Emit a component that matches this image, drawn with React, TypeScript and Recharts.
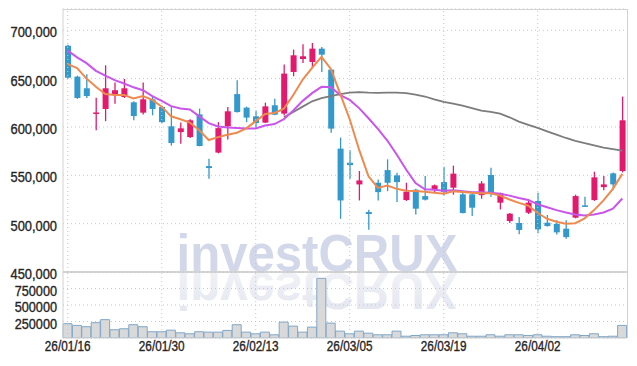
import React from 'react'
import {
  ComposedChart, BarChart, Bar, Line, XAxis, YAxis,
  CartesianGrid, ReferenceLine
} from 'recharts'

const dates = [
  '26/01/16', '26/01/19', '26/01/20', '26/01/21', '26/01/22', '26/01/23', '26/01/26', '26/01/27', '26/01/28', '26/01/29',
  '26/01/30', '26/02/02', '26/02/03', '26/02/04', '26/02/05', '26/02/06', '26/02/09', '26/02/10', '26/02/11', '26/02/12',
  '26/02/13', '26/02/19', '26/02/20', '26/02/23', '26/02/24', '26/02/25', '26/02/26', '26/02/27', '26/03/03', '26/03/04',
  '26/03/05', '26/03/06', '26/03/09', '26/03/10', '26/03/11', '26/03/12', '26/03/13', '26/03/16', '26/03/17', '26/03/18',
  '26/03/19', '26/03/20', '26/03/23', '26/03/24', '26/03/25', '26/03/26', '26/03/27', '26/03/30', '26/03/31', '26/04/01',
  '26/04/02', '26/04/03', '26/04/06', '26/04/07', '26/04/08', '26/04/09', '26/04/10', '26/04/13', '26/04/14', '26/04/15',
]

const opens = [
  684000, 652000, 640000, 613500, 618600, 634000, 631000, 625500, 614800, 628600,
  620600, 600700, 594700, 589600, 613000, 559500, 573500, 600600, 634000, 620000,
  611000, 604500, 622400, 613800, 656900, 670300, 667200, 681000, 659300, 577600,
  563000, 540600, 512000, 542300, 555400, 549900, 524400, 535100, 528500, 535500,
  543000, 537200, 530300, 530300, 529500, 550300, 521700, 502700, 500700, 511300,
  523400, 501000, 499700, 494800, 506200, 518900, 524400, 537800, 552000, 554400,
]
const highs = [
  685000, 653000, 654500, 630300, 663800, 646000, 649600, 626500, 645900, 631000,
  622000, 620600, 604500, 608000, 619000, 567200, 605000, 620600, 648300, 621000,
  617000, 625200, 629300, 664500, 680000, 685500, 686900, 682800, 660000, 589000,
  575800, 554400, 514400, 545700, 566500, 552700, 542300, 536000, 549200, 540500,
  558900, 560000, 533600, 531500, 544000, 557900, 532000, 511000, 506800, 523500,
  532000, 509000, 503500, 503500, 530000, 527900, 553700, 549200, 553000, 631400,
]
const lows = [
  650000, 629000, 630000, 596500, 606000, 624000, 630000, 607000, 613000, 612000,
  604000, 580700, 582700, 588500, 580000, 546500, 572700, 587000, 615000, 605000,
  598500, 604000, 612000, 611800, 652400, 666200, 662000, 656900, 594000, 505000,
  546500, 524000, 493800, 524000, 533600, 522300, 523500, 509400, 524000, 532600,
  529200, 530000, 510500, 507800, 525800, 527900, 514700, 500700, 489000, 510000,
  490000, 497000, 488900, 484400, 505500, 517500, 523500, 534600, 535400, 553000,
]
const closes = [
  651000, 630000, 632000, 615000, 640000, 638000, 640000, 611300, 628600, 618600,
  605000, 583400, 598600, 606900, 580300, 557500, 598800, 616200, 615400, 609700,
  604000, 621300, 612700, 655200, 674100, 673100, 681000, 674800, 598300, 524000,
  560600, 544700, 510000, 532600, 542300, 543000, 533000, 515500, 524800, 539600,
  532600, 551700, 511000, 516500, 541600, 532600, 531400, 510300, 493500, 521700,
  494100, 497500, 491000, 486100, 528500, 517900, 547900, 540600, 540600, 606900,
]

const ma5 = [
  665000, 661000, 650000, 641500, 634000, 633000, 633000, 629500, 632000, 628000,
  621000, 611000, 608000, 604500, 596500, 586500, 589500, 592000, 594000, 598500,
  606000, 613500, 614500, 619000, 633000, 649000, 661000, 672500, 660000, 634000,
  608000, 576500, 549000, 537000, 539500, 536000, 534000, 533700, 533000, 532000,
  531000, 533500, 532800, 532000, 531500, 531500, 529000, 525000, 521500, 518500,
  511000, 505000, 502000, 500000, 500500, 505500, 514000, 524000, 536000, 551500,
]
const ma10 = [
  679000, 672000, 666000, 658000, 653000, 648500, 645000, 641000, 638000, 632000,
  627000, 621500, 619000, 618000, 611000, 604000, 600500, 599500, 599000, 598500,
  598500, 601500, 603000, 608000, 617000, 627000, 635000, 641500, 641000, 633000,
  628000, 619500, 609000, 598000, 586000, 571500, 556000, 542000, 535500, 535000,
  534000, 534500, 533500, 532500, 532500, 532000, 531000, 529000, 526500, 524500,
  520000, 517000, 514000, 511500, 509500, 508500, 509500, 511500, 515500, 526000,
]
const ma20 = [
  null, null, null, null, null, null, null, null, null, null,
  null, null, null, null, null, null, null, null, null, null,
  null, null, null, 610000, 615500, 621000, 626500, 629800, 632000, 634000,
  635500, 636000, 635500, 635300, 635500, 635500, 635000, 633500, 631500, 628500,
  626000, 624200, 622000, 619500, 617000, 615500, 613800, 610000, 605600, 602200,
  599000, 595400, 592000, 588600, 585700, 583200, 581000, 578600, 577000, 575500,
]

const volumes = [
  217000, 191000, 171000, 232000, 278000, 125000, 140000, 201000, 171000, 95000,
  95000, 119000, 79000, 64000, 95000, 89000, 89000, 115000, 201000, 89000,
  64000, 89000, 49000, 241000, 180000, 89000, 165000, 904000, 226000, 104000,
  64000, 104000, 73000, 49000, 49000, 104000, 27000, 38000, 49000, 49000,
  49000, 79000, 64000, 27000, 27000, 49000, 27000, 49000, 49000, 38000,
  49000, 27000, 20000, 20000, 49000, 38000, 64000, 20000, 27000, 191000,
]

const priceTicks = [450000, 500000, 550000, 600000, 650000, 700000]
const volumeTicks = [250000, 500000, 750000]
const dateTicks = ['26/01/16', '26/01/30', '26/02/13', '26/03/05', '26/03/19', '26/04/02']

const UP = '#e3196d'
const DOWN = '#3398cb'
const GRID = '#c3c6da'
const BORDER = '#d2d2d2'
const INK = '#252525'
const FONT = "'Liberation Sans', Arial, sans-serif"

const rows = dates.map((date, i) => ({
  date,
  open: opens[i],
  high: highs[i],
  low: lows[i],
  close: closes[i],
  range: [lows[i], highs[i]],
  ma5: ma5[i],
  ma10: ma10[i],
  ma20: ma20[i],
  volume: volumes[i],
}))

function Candle(props: any) {
  const { x, y, width, height, payload } = props
  const { open, high, low, close } = payload
  const top = Math.min(y, y + height)
  const h = Math.abs(height)
  const k = high > low ? h / (high - low) : 0
  const color = close >= open ? UP : DOWN
  const bodyTop = top + (high - Math.max(open, close)) * k
  const bodyH = Math.max(Math.abs(open - close) * k, 1.5)
  const cx = x + width / 2
  return (
    <g>
      <line x1={cx} x2={cx} y1={top} y2={top + h} stroke={color} strokeWidth={1.3} />
      <rect x={x} y={bodyTop} width={width} height={bodyH} fill={color} />
    </g>
  )
}

function PriceTick({ x, y, payload }: any) {
  return (
    <text x={x} y={y + 7} textAnchor="end" fontSize={14} fill={INK} stroke={INK} strokeWidth={0.35}
      fontFamily={FONT} textLength={46.5} lengthAdjust="spacingAndGlyphs">
      {payload.value.toLocaleString('en-US')}
    </text>
  )
}

function VolumeTick({ x, y, payload }: any) {
  return (
    <text x={x} y={y + 7} textAnchor="end" fontSize={14} fill={INK} stroke={INK} strokeWidth={0.35}
      fontFamily={FONT} textLength={42.3} lengthAdjust="spacingAndGlyphs">
      {String(payload.value)}
    </text>
  )
}

function DateTick({ x, y, payload }: any) {
  return (
    <text x={x} y={y + 7} textAnchor="middle" fontSize={14} fill={INK} stroke={INK} strokeWidth={0.35}
      fontFamily={FONT} textLength={45.7} lengthAdjust="spacingAndGlyphs">
      {payload.value}
    </text>
  )
}

function Watermark() {
  return (
    <svg width={637} height={366} style={{ position: 'absolute', left: 0, top: 0 }}>
      <defs>
        <linearGradient id="fade" x1="0" y1="0" x2="0" y2="1">
          <stop offset="0" stopColor="#e2e4ef" />
          <stop offset="1" stopColor="#f3f4f8" />
        </linearGradient>
      </defs>
      <text x={176.5} y={271} fontSize={52} fontWeight="bold" fill="#d2d7ea"
        fontFamily={FONT} textLength={281} lengthAdjust="spacingAndGlyphs">
        investCRUX
      </text>
      <text x={176.5} y={271} fontSize={52} fontWeight="bold" fill="url(#fade)"
        fontFamily={FONT} textLength={281} lengthAdjust="spacingAndGlyphs"
        transform="translate(0 544) scale(1 -1)">
        investCRUX
      </text>
    </svg>
  )
}

export default function App() {
  return (
    <div style={{ position: 'absolute', left: 0, top: 0, width: 637, height: 366, background: '#fff' }}>
      <Watermark />
      <div style={{ position: 'absolute', left: 0, top: 0 }}>
        <ComposedChart width={637} height={300} data={rows}
          margin={{ top: 9, right: 10, bottom: 28, left: 0 }}>
          <CartesianGrid vertical={false} stroke={GRID} strokeDasharray="1 3" />
          {dateTicks.map((d) => (
            <ReferenceLine key={d} x={d} stroke={GRID} strokeDasharray="1 3" />
          ))}
          <ReferenceLine y={450000} stroke="#c6c6c6" strokeWidth={1.5} />
          <XAxis dataKey="date" hide />
          <YAxis width={63} domain={[450000, 722000]} ticks={priceTicks} interval={0}
            allowDataOverflow tickLine={false} tickSize={4} tickMargin={2}
            axisLine={{ stroke: BORDER }} tick={PriceTick} />
          <Bar dataKey="range" shape={Candle} barSize={6} isAnimationActive={false} />
          <Line type="linear" dataKey="ma20" stroke="#7c7c7c" strokeWidth={1.8} dot={false} isAnimationActive={false} />
          <Line type="linear" dataKey="ma10" stroke="#c955ea" strokeWidth={2} dot={false} isAnimationActive={false} />
          <Line type="linear" dataKey="ma5" stroke="#ef8a4e" strokeWidth={2} dot={false} isAnimationActive={false} />
        </ComposedChart>
      </div>
      <div style={{ position: 'absolute', left: 0, top: 272 }}>
        <BarChart width={637} height={94} data={rows} barCategoryGap={0}
          margin={{ top: 0, right: 10, bottom: 0, left: 0 }}>
          <CartesianGrid vertical={false} stroke={GRID} strokeDasharray="1 3" />
          {dateTicks.map((d) => (
            <ReferenceLine key={d} x={d} stroke={GRID} strokeDasharray="1 3" />
          ))}
          <XAxis dataKey="date" height={28} ticks={dateTicks} interval={0}
            tickLine={false} tickSize={4} tickMargin={2}
            axisLine={{ stroke: BORDER }} tick={DateTick} />
          <YAxis width={63} domain={[0, 1000000]} ticks={volumeTicks} interval={0}
            allowDataOverflow tickLine={false} tickSize={4} tickMargin={2}
            axisLine={{ stroke: BORDER }} tick={VolumeTick} />
          <Bar dataKey="volume" fill="#d9d9d9" stroke="#80a7c9" strokeWidth={1}
            isAnimationActive={false} />
        </BarChart>
      </div>
      <div style={{
        position: 'absolute', left: 63, top: 9, width: 565, height: 329,
        borderTop: `1.5px solid ${BORDER}`, borderRight: `1.5px solid ${BORDER}`,
        boxSizing: 'border-box', pointerEvents: 'none',
      }} />
    </div>
  )
}
